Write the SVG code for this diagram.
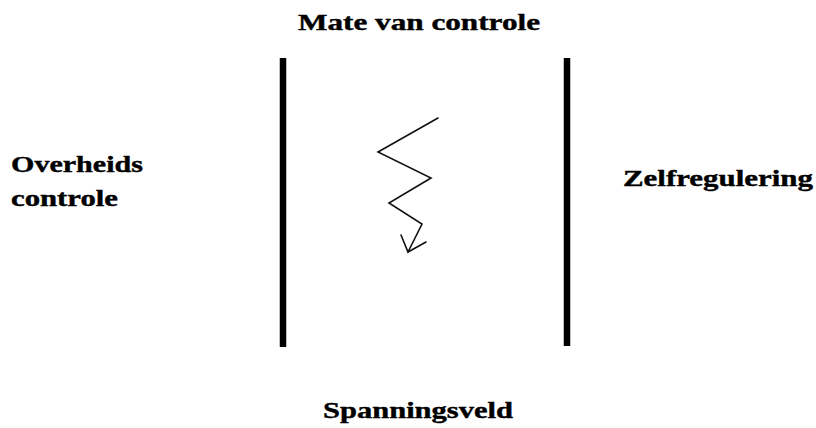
<svg xmlns="http://www.w3.org/2000/svg" width="816" height="428" viewBox="0 0 816 428">
<style>
.t{font-family:"Liberation Serif","Times New Roman",serif;font-weight:bold;font-size:23px;fill:#000;stroke:#000;stroke-width:0.4}
.bar{stroke:#000;stroke-width:6.5;fill:none}
.zz{stroke:#111;stroke-width:1.6;fill:none;stroke-linejoin:miter;stroke-linecap:round}
</style>
<rect width="816" height="428" fill="#fff"/>
<g id="label-top"><text class="t" x="298" y="30" textLength="242" lengthAdjust="spacingAndGlyphs">Mate van controle</text></g>
<g id="label-left"><text class="t" x="11" y="172" textLength="132" lengthAdjust="spacingAndGlyphs">Overheids</text><text class="t" x="11" y="206" textLength="107" lengthAdjust="spacingAndGlyphs">controle</text></g>
<g id="label-right"><text class="t" x="623" y="186" textLength="190" lengthAdjust="spacingAndGlyphs">Zelfregulering</text></g>
<g id="label-bottom"><text class="t" x="323" y="418" textLength="190" lengthAdjust="spacingAndGlyphs">Spanningsveld</text></g>
<g id="bar-left"><line class="bar" x1="283" y1="58" x2="283" y2="347"/></g>
<g id="bar-right"><line class="bar" x1="567" y1="58" x2="567" y2="346"/></g>
<g id="connectors">
<polyline class="zz" points="438,118 378,152 431,178 389,203 422,224 408,252"/>
<polyline class="zz" points="401,235 408,252 426,242"/>
</g>
</svg>
